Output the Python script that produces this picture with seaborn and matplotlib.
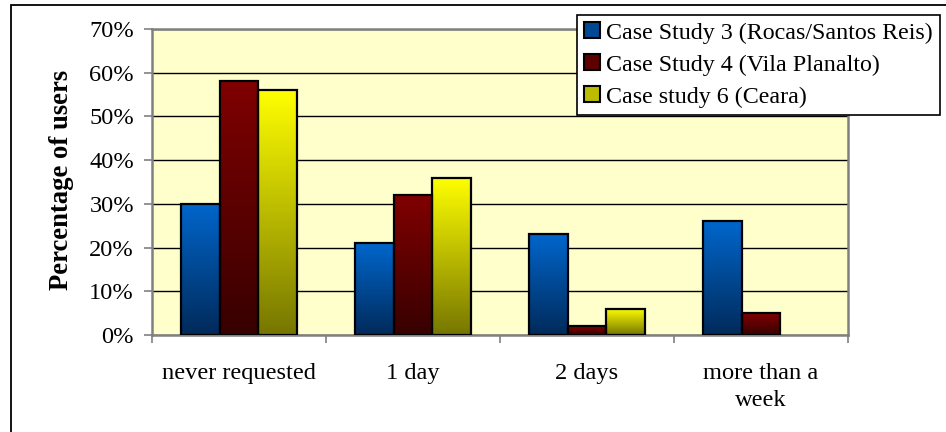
import numpy as np
import pandas as pd
import matplotlib
matplotlib.use("Agg")
import matplotlib.pyplot as plt
import seaborn as sns
from matplotlib.patches import Patch, Rectangle
from matplotlib.ticker import FixedLocator, FuncFormatter

# Data
categories = ["never requested", "1 day", "2 days", "more than a\nweek"]
series = ["Case Study 3 (Rocas/Santos Reis)",
          "Case Study 4 (Vila Planalto)",
          "Case study 6 (Ceara)"]
case3 = [30, 21, 23, 26]
case4 = [58, 32, 2, 5]
case6 = [56, 36, 6, 0]
yticks = [0, 10, 20, 30, 40, 50, 60, 70]

# Gradient colours per series: (top, bottom)
gradients = [((0, 102, 204), (0, 42, 90)),
             ((128, 0, 0), (55, 0, 0)),
             ((255, 255, 0), (118, 118, 0))]
mid_colors = [tuple((a + b) / 2 / 255 for a, b in zip(t, bt)) for t, bt in gradients]
top_colors = [tuple(c / 255 for c in t) for t, _ in gradients]

df = pd.DataFrame({
    "category": categories * 3,
    "series": np.repeat(series, len(categories)),
    "value": case3 + case4 + case6,
})

sns.set_theme(style="white")
plt.rcParams["font.family"] = ["Liberation Serif", "DejaVu Serif"]
plt.rcParams["text.color"] = "black"
plt.rcParams["xtick.color"] = "black"
plt.rcParams["ytick.color"] = "black"
plt.rcParams["xtick.labelcolor"] = "black"
plt.rcParams["ytick.labelcolor"] = "black"
FS = 17.6

fig = plt.figure(figsize=(9.46, 4.32), dpi=100)
ax = fig.add_axes([152 / 946, 1 - 335 / 432, 696 / 946, 306 / 432])
ax.set_facecolor("#FFFFCC")

sns.barplot(data=df, x="category", y="value", hue="series",
            order=categories, hue_order=series, palette=top_colors,
            width=0.67, gap=0, saturation=1, legend=False,
            edgecolor="black", linewidth=1.6, ax=ax)

# Replace flat fills with vertical gradients
for i, cont in enumerate(ax.containers):
    top, bottom = gradients[i]
    n = 256
    t = np.linspace(0, 1, n)[:, None]
    grad = (np.array(bottom)[None, :] * (1 - t) + np.array(top)[None, :] * t) / 255
    grad = grad[:, None, :]
    for bar in cont:
        x, w, h = bar.get_x(), bar.get_width(), bar.get_height()
        bar.set_facecolor("none")
        bar.set_zorder(3)
        if h > 0:
            ax.imshow(grad, extent=[x, x + w, 0, h], origin="lower",
                      aspect="auto", zorder=2, interpolation="bilinear")
        else:
            bar.set_linewidth(0)

ax.set_xlim(-0.5, len(categories) - 0.5)
ax.set_ylim(0, 70)

# Grid
ax.set_axisbelow(True)
ax.yaxis.grid(True, color="black", linewidth=1.0)
ax.xaxis.grid(False)

# Y axis
ax.set_yticks(yticks)
ax.yaxis.set_major_formatter(FuncFormatter(lambda v, p: f"{int(v)}%"))
ax.tick_params(axis="y", which="major", length=6, width=1.2, color="#808080",
               direction="out", pad=7, labelsize=FS, left=True,
               labelcolor="black")

# X axis: labels centred, ticks at category boundaries
ax.set_xticks(range(len(categories)))
ax.set_xticklabels(categories, fontsize=FS, linespacing=1.4, color="black")
ax.xaxis.set_minor_locator(FixedLocator(np.arange(-0.5, len(categories), 1.0)))
ax.tick_params(axis="x", which="major", length=0, pad=20, labelsize=FS)
ax.tick_params(axis="x", which="minor", length=6, width=1.2, color="#808080",
               direction="out", bottom=True)
ax.set_xlabel("")
ax.set_ylabel("")

for s in ax.spines.values():
    s.set_visible(True)
    s.set_color("#808080")
    s.set_linewidth(1.8)

# Y label
fig.text(61 / 946, 1 - 180 / 432, "Percentage of users", rotation=90,
         fontsize=19.2, fontweight="bold", ha="center", va="center",
         color="black")

# Legend
handles = [Patch(facecolor=mid_colors[i], edgecolor="black", linewidth=1.5)
           for i in range(len(series))]
leg = fig.legend(handles, series, loc="upper left",
                 bbox_to_anchor=(577 / 946, 1 - 15 / 432),
                 prop={"size": 17.3}, frameon=True, fancybox=False,
                 framealpha=1, edgecolor="black", facecolor="white",
                 borderpad=0.3, handlelength=0.65, handleheight=0.65,
                 handletextpad=0.25, labelspacing=0.44, borderaxespad=0)
leg.get_frame().set_linewidth(1.2)
for txt in leg.get_texts():
    txt.set_color("black")

# Outer chart border
fig.add_artist(Rectangle((11 / 946, -0.1), 1.0, 1 - 5 / 432 + 0.1,
                         transform=fig.transFigure, fill=False,
                         edgecolor="black", linewidth=1.3))

fig.savefig("out.png", dpi=100, facecolor="white")
